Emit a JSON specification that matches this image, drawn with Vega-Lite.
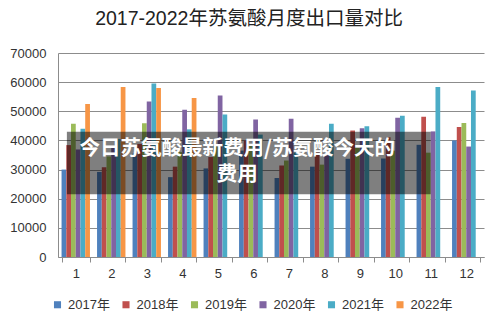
{
  "$schema": "https://vega.github.io/schema/vega-lite/v6.json",
  "width": 426,
  "height": 204,
  "autosize": {"type": "none"},
  "padding": {"left": 58, "top": 53, "right": 16, "bottom": 69},
  "background": "white",
  "config": {
    "view": {"stroke": null},
    "font": "Liberation Sans, Noto Sans CJK SC, sans-serif",
    "axisY": {
      "labelOverlap": false, "labelFlush": false, "ticks": false, "labelPadding": 12,
      "labelFontSize": 13, "labelColor": "#333333", "domainColor": "#8c8c8c", "gridColor": "#8c8c8c", "title": null
    }
  },
  "title": {
    "text": "2017-2022年苏氨酸月度出口量对比",
    "fontSize": 19.5,
    "fontWeight": "normal",
    "color": "#222222",
    "font": "Liberation Sans, Noto Sans CJK SC, sans-serif",
    "anchor": "middle",
    "frame": "group",
    "dx": -22,
    "offset": 18
  },
  "datasets": {
    "bars": [
      {"month": 1, "year": "2017年", "v": 30000}, {"month": 1, "year": "2018年", "v": 38400}, {"month": 1, "year": "2019年", "v": 45700}, {"month": 1, "year": "2020年", "v": 36900}, {"month": 1, "year": "2021年", "v": 44000}, {"month": 1, "year": "2022年", "v": 52500},
      {"month": 2, "year": "2017年", "v": 29200}, {"month": 2, "year": "2018年", "v": 30800}, {"month": 2, "year": "2019年", "v": 34500}, {"month": 2, "year": "2020年", "v": 38000}, {"month": 2, "year": "2021年", "v": 40500}, {"month": 2, "year": "2022年", "v": 58300},
      {"month": 3, "year": "2017年", "v": 35500}, {"month": 3, "year": "2018年", "v": 38800}, {"month": 3, "year": "2019年", "v": 45900}, {"month": 3, "year": "2020年", "v": 53400}, {"month": 3, "year": "2021年", "v": 59500}, {"month": 3, "year": "2022年", "v": 58000},
      {"month": 4, "year": "2017年", "v": 27400}, {"month": 4, "year": "2018年", "v": 31000}, {"month": 4, "year": "2019年", "v": 36000}, {"month": 4, "year": "2020年", "v": 50500}, {"month": 4, "year": "2021年", "v": 43800}, {"month": 4, "year": "2022年", "v": 54600},
      {"month": 5, "year": "2017年", "v": 30400}, {"month": 5, "year": "2018年", "v": 34300}, {"month": 5, "year": "2019年", "v": 38500}, {"month": 5, "year": "2020年", "v": 55400}, {"month": 5, "year": "2021年", "v": 48900},
      {"month": 6, "year": "2017年", "v": 36500}, {"month": 6, "year": "2018年", "v": 40000}, {"month": 6, "year": "2019年", "v": 38500}, {"month": 6, "year": "2020年", "v": 47200}, {"month": 6, "year": "2021年", "v": 42000},
      {"month": 7, "year": "2017年", "v": 27100}, {"month": 7, "year": "2018年", "v": 31400}, {"month": 7, "year": "2019年", "v": 33100}, {"month": 7, "year": "2020年", "v": 47400}, {"month": 7, "year": "2021年", "v": 35800},
      {"month": 8, "year": "2017年", "v": 31000}, {"month": 8, "year": "2018年", "v": 35800}, {"month": 8, "year": "2019年", "v": 31700}, {"month": 8, "year": "2020年", "v": 34900}, {"month": 8, "year": "2021年", "v": 45700},
      {"month": 9, "year": "2017年", "v": 33700}, {"month": 9, "year": "2018年", "v": 43400}, {"month": 9, "year": "2019年", "v": 37500}, {"month": 9, "year": "2020年", "v": 44200}, {"month": 9, "year": "2021年", "v": 44900},
      {"month": 10, "year": "2017年", "v": 33800}, {"month": 10, "year": "2018年", "v": 41100}, {"month": 10, "year": "2019年", "v": 36500}, {"month": 10, "year": "2020年", "v": 47800}, {"month": 10, "year": "2021年", "v": 48500},
      {"month": 11, "year": "2017年", "v": 38500}, {"month": 11, "year": "2018年", "v": 48100}, {"month": 11, "year": "2019年", "v": 35800}, {"month": 11, "year": "2020年", "v": 43100}, {"month": 11, "year": "2021年", "v": 58300},
      {"month": 12, "year": "2017年", "v": 40000}, {"month": 12, "year": "2018年", "v": 44600}, {"month": 12, "year": "2019年", "v": 46000}, {"month": 12, "year": "2020年", "v": 37900}, {"month": 12, "year": "2021年", "v": 57100}
    ],
    "note": [
      {"x1": 0.25, "x2": 10.5, "y1": 21500, "y2": 43000, "tx": 5.05, "ty": 37200, "t": "今日苏氨酸最新费用/苏氨酸今天的\n费用"}
    ]
  },
  "layer": [
    {
      "data": {"name": "bars"},
      "mark": {"type": "bar"},
      "encoding": {
        "x": {
          "field": "month", "type": "ordinal",
          "scale": {"paddingInner": 0.2, "paddingOuter": 0.1},
          "axis": {
            "title": null, "labelAngle": 0, "labelFontSize": 13, "labelColor": "#333333",
            "domainColor": "#8c8c8c", "tickColor": "#8c8c8c", "tickBand": "extent", "tickSize": 5,
            "labelPadding": 5, "grid": false
          }
        },
        "xOffset": {
          "field": "year", "type": "nominal",
          "scale": {"domain": ["2017年", "2018年", "2019年", "2020年", "2021年", "2022年"], "paddingInner": 0, "paddingOuter": 0}
        },
        "y": {
          "field": "v", "type": "quantitative",
          "scale": {"domain": [0, 70000], "nice": false},
          "axis": {
            "values": [0, 10000, 20000, 30000, 40000, 50000, 60000, 70000],
            "format": "d", "grid": true, "labelOverlap": false
          }
        },
        "color": {
          "field": "year", "type": "nominal",
          "scale": {
            "domain": ["2017年", "2018年", "2019年", "2020年", "2021年", "2022年"],
            "range": ["#4F81BD", "#C0504D", "#9BBB59", "#8064A2", "#4BACC6", "#F79646"]
          },
          "legend": {
            "title": null, "orient": "none", "direction": "horizontal", "legendX": -7, "legendY": 245,
            "symbolType": "square", "symbolSize": 50, "labelFontSize": 13, "labelColor": "#333333",
            "columnPadding": 9.5, "labelOffset": 4, "symbolStrokeWidth": 0
          }
        }
      }
    },
    {
      "data": {"name": "note"},
      "mark": {"type": "rect", "color": "#000000", "opacity": 0.5},
      "encoding": {
        "x": {"field": "x1", "type": "quantitative", "scale": {"domain": [0, 12]}, "axis": null},
        "x2": {"field": "x2"},
        "y": {"field": "y1", "type": "quantitative", "axis": {"values": [0, 10000, 20000, 30000, 40000, 50000, 60000, 70000], "format": "d", "grid": true, "labelOverlap": false}},
        "y2": {"field": "y2"}
      }
    },
    {
      "data": {"name": "note"},
      "mark": {"type": "text", "color": "white", "fontSize": 20.5, "fontWeight": "bold", "font": "Noto Sans CJK SC", "lineBreak": "\n", "lineHeight": 26, "align": "center", "baseline": "middle"},
      "encoding": {
        "x": {"field": "tx", "type": "quantitative", "scale": {"domain": [0, 12]}, "axis": null},
        "y": {"field": "ty", "type": "quantitative", "axis": {"values": [0, 10000, 20000, 30000, 40000, 50000, 60000, 70000], "format": "d", "grid": true, "labelOverlap": false}},
        "text": {"field": "t"}
      }
    }
  ],
  "resolve": {"scale": {"x": "independent"}}
}
